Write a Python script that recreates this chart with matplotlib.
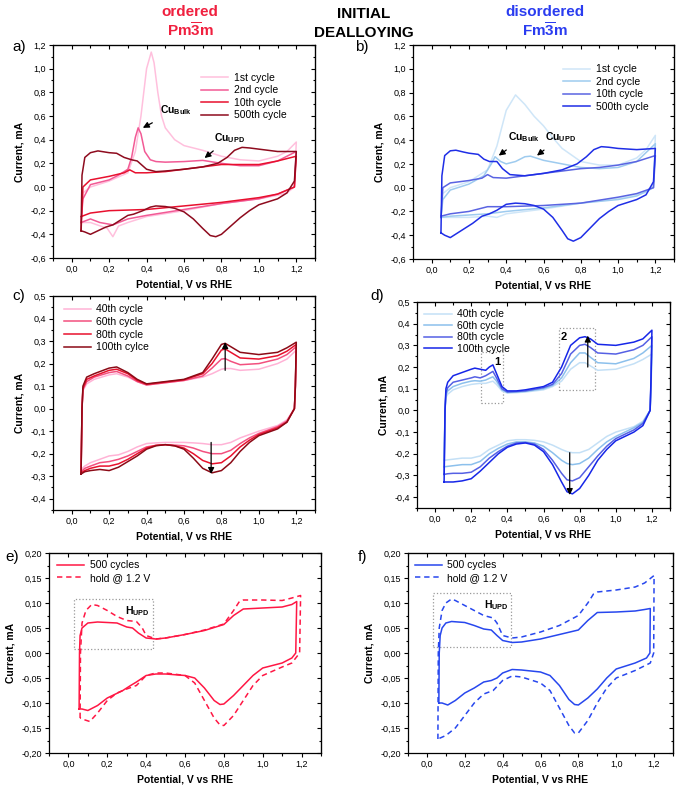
import numpy as np
import matplotlib.pyplot as plt
from matplotlib.ticker import MultipleLocator, FuncFormatter

plt.rcParams['font.family'] = ['Liberation Sans', 'DejaVu Sans']
plt.rcParams['mathtext.fontset'] = 'custom'
plt.rcParams['mathtext.rm'] = 'Liberation Sans:bold'
plt.rcParams['mathtext.bf'] = 'Liberation Sans:bold'
plt.rcParams['mathtext.it'] = 'Liberation Sans:bold'

# ---------- a) ordered, initial dealloying ----------
a_1st_x = [0.05, 0.06, 0.1, 0.2, 0.3, 0.34, 0.37, 0.40, 0.425, 0.44, 0.46, 0.48, 0.5, 0.55, 0.6, 0.7, 0.8, 0.9, 1.0, 1.1, 1.15, 1.2,
           1.19, 1.15, 1.1, 1.0, 0.8, 0.6, 0.4, 0.3, 0.25, 0.22, 0.19, 0.1, 0.05]
a_1st_y = [-0.3, -0.05, 0.0, 0.05, 0.12, 0.3, 0.6, 1.0, 1.14, 1.05, 0.8, 0.6, 0.5, 0.4, 0.35, 0.31, 0.26, 0.23, 0.22, 0.26, 0.3, 0.38,
           0.0, -0.05, -0.07, -0.1, -0.14, -0.2, -0.25, -0.3, -0.33, -0.42, -0.35, -0.3, -0.3]
a_2nd_x = [0.05, 0.06, 0.1, 0.2, 0.25, 0.3, 0.32, 0.34, 0.355, 0.37, 0.39, 0.42, 0.45, 0.5, 0.6, 0.7, 0.8, 0.9, 1.0, 1.1, 1.2,
           1.19, 1.1, 1.0, 0.8, 0.6, 0.4, 0.3, 0.22, 0.15, 0.1, 0.05]
a_2nd_y = [-0.3, -0.1, 0.02, 0.06, 0.1, 0.15, 0.25, 0.42, 0.5, 0.45, 0.3, 0.23, 0.215, 0.21, 0.215, 0.225, 0.2, 0.18, 0.18, 0.22, 0.3,
           0.0, -0.06, -0.1, -0.14, -0.19, -0.24, -0.27, -0.32, -0.3, -0.27, -0.3]
a_10th_x = [0.05, 0.06, 0.1, 0.2, 0.28, 0.31, 0.34, 0.4, 0.5, 0.6, 0.7, 0.8, 0.9, 1.0, 1.1, 1.2,
            1.19, 1.1, 1.0, 0.8, 0.6, 0.4, 0.2, 0.1, 0.05]
a_10th_y = [-0.37, 0.0, 0.06, 0.09, 0.12, 0.145, 0.12, 0.12, 0.13, 0.15, 0.17, 0.19, 0.19, 0.19, 0.22, 0.26,
            0.0, -0.06, -0.09, -0.13, -0.16, -0.19, -0.2, -0.22, -0.25]
a_500th_x = [0.05, 0.055, 0.07, 0.1, 0.14, 0.2, 0.24, 0.28, 0.32, 0.35, 0.4, 0.45, 0.5, 0.6, 0.7, 0.78, 0.83, 0.87, 0.91, 0.95, 1.0, 1.1, 1.2,
             1.19, 1.15, 1.1, 1.0, 0.95, 0.9, 0.85, 0.8, 0.77, 0.74, 0.7, 0.65, 0.6, 0.55, 0.5, 0.45, 0.42, 0.38, 0.33, 0.3, 0.27, 0.22,
             0.18, 0.14, 0.1, 0.07, 0.05]
a_500th_y = [-0.37, 0.1, 0.25, 0.29, 0.305, 0.29, 0.285, 0.25, 0.23, 0.22, 0.15, 0.13, 0.135, 0.15, 0.17, 0.2, 0.25, 0.31, 0.335, 0.33, 0.32, 0.3, 0.3,
             0.05, -0.05, -0.1, -0.15, -0.2, -0.26, -0.33, -0.4, -0.42, -0.41, -0.35, -0.27, -0.21, -0.18, -0.165, -0.16, -0.17, -0.2,
             -0.23, -0.24, -0.27, -0.32, -0.34, -0.37, -0.4, -0.38, -0.37]

# ---------- b) disordered, initial dealloying ----------
b_1st_x = [0.05, 0.06, 0.1, 0.2, 0.3, 0.35, 0.4, 0.45, 0.5, 0.55, 0.6, 0.65, 0.7, 0.8, 0.9, 1.0, 1.1, 1.15, 1.2,
           1.19, 1.15, 1.1, 1.0, 0.8, 0.6, 0.4, 0.35, 0.3, 0.2, 0.1, 0.05]
b_1st_y = [-0.25, -0.05, 0.0, 0.05, 0.15, 0.35, 0.65, 0.78, 0.7, 0.6, 0.52, 0.42, 0.33, 0.22, 0.19, 0.19, 0.25, 0.32, 0.44,
           0.02, -0.04, -0.06, -0.09, -0.13, -0.18, -0.22, -0.25, -0.24, -0.25, -0.25, -0.25]
b_2nd_x = [0.05, 0.06, 0.1, 0.2, 0.28, 0.32, 0.34, 0.37, 0.4, 0.45, 0.5, 0.53, 0.6, 0.7, 0.8, 0.9, 1.0, 1.1, 1.2,
           1.19, 1.1, 1.0, 0.8, 0.6, 0.4, 0.3, 0.2, 0.1, 0.05]
b_2nd_y = [-0.25, -0.1, -0.02, 0.03, 0.1, 0.2, 0.26, 0.22, 0.2, 0.22, 0.26, 0.265, 0.23, 0.2, 0.17, 0.16, 0.17, 0.22, 0.37,
           0.0, -0.07, -0.1, -0.13, -0.17, -0.2, -0.22, -0.23, -0.24, -0.25]
b_10th_x = [0.05, 0.06, 0.1, 0.2, 0.27, 0.3, 0.33, 0.4, 0.5, 0.6, 0.7, 0.8, 0.9, 1.0, 1.1, 1.2,
            1.19, 1.1, 1.0, 0.8, 0.6, 0.4, 0.3, 0.2, 0.1, 0.05]
b_10th_y = [-0.25, 0.0, 0.04, 0.06, 0.08, 0.11, 0.085, 0.08, 0.1, 0.12, 0.14, 0.16, 0.17, 0.19, 0.22, 0.27,
            0.0, -0.05, -0.08, -0.13, -0.15, -0.16, -0.16, -0.2, -0.22, -0.24]
b_500th_x = [0.05, 0.055, 0.07, 0.1, 0.13, 0.17, 0.2, 0.25, 0.28, 0.31, 0.35, 0.38, 0.42, 0.5, 0.6, 0.7, 0.78, 0.83, 0.87, 0.91, 0.95, 1.0, 1.1, 1.2,
             1.19, 1.15, 1.1, 1.0, 0.95, 0.9, 0.85, 0.8, 0.76, 0.73, 0.7, 0.65, 0.6, 0.55, 0.5, 0.45, 0.4, 0.35, 0.31, 0.27, 0.22,
             0.18, 0.14, 0.1, 0.07, 0.05]
b_500th_y = [-0.38, 0.1, 0.27, 0.31, 0.315, 0.3, 0.29, 0.28, 0.24, 0.22, 0.22, 0.16, 0.11, 0.1, 0.12, 0.15, 0.2, 0.26, 0.32, 0.345, 0.34, 0.33, 0.32, 0.33,
             0.05, -0.06, -0.1, -0.15, -0.2, -0.26, -0.34, -0.42, -0.45, -0.43, -0.36, -0.25, -0.18, -0.15, -0.135, -0.13, -0.14, -0.19,
             -0.22, -0.24, -0.3, -0.34, -0.38, -0.42, -0.4, -0.38]

# ---------- c) ordered, 40-100 cycles (shared potential grids) ----------
c_fwd_x = [0.05, 0.055, 0.06, 0.08, 0.12, 0.2, 0.24, 0.3, 0.35, 0.4, 0.5, 0.6, 0.7, 0.75, 0.8, 0.82, 0.85, 0.9, 1.0, 1.1, 1.15, 1.2]
c_rev_x = [1.2, 1.195, 1.19, 1.15, 1.1, 1.0, 0.95, 0.9, 0.85, 0.8, 0.75, 0.7, 0.65, 0.6, 0.55, 0.5, 0.45, 0.4, 0.35, 0.3, 0.25, 0.2, 0.15, 0.1, 0.07, 0.05]
c_40_fwd = [-0.27, 0.0, 0.08, 0.11, 0.13, 0.15, 0.155, 0.14, 0.12, 0.105, 0.115, 0.125, 0.14, 0.155, 0.175, 0.178, 0.178, 0.17, 0.175, 0.2, 0.22, 0.26]
c_60_fwd = [-0.28, 0.0, 0.085, 0.12, 0.14, 0.16, 0.165, 0.145, 0.12, 0.105, 0.115, 0.125, 0.145, 0.18, 0.22, 0.222, 0.21, 0.195, 0.2, 0.22, 0.24, 0.275]
c_80_fwd = [-0.285, 0.0, 0.09, 0.13, 0.145, 0.17, 0.175, 0.155, 0.125, 0.108, 0.118, 0.128, 0.155, 0.2, 0.26, 0.265, 0.25, 0.225, 0.22, 0.235, 0.255, 0.285]
c_100_fwd = [-0.29, 0.0, 0.1, 0.14, 0.155, 0.18, 0.185, 0.16, 0.13, 0.11, 0.12, 0.13, 0.16, 0.22, 0.285, 0.29, 0.275, 0.25, 0.24, 0.25, 0.27, 0.295]
c_40_rev = [0.26, 0.09, 0.0, -0.05, -0.075, -0.1, -0.115, -0.13, -0.15, -0.16, -0.16, -0.155, -0.152, -0.15, -0.15, -0.15, -0.152, -0.155, -0.17, -0.19, -0.205, -0.21, -0.225, -0.24, -0.255, -0.27]
c_60_rev = [0.275, 0.09, 0.0, -0.055, -0.08, -0.11, -0.13, -0.155, -0.185, -0.2, -0.2, -0.19, -0.175, -0.165, -0.162, -0.16, -0.163, -0.17, -0.19, -0.21, -0.225, -0.235, -0.24, -0.255, -0.265, -0.28]
c_80_rev = [0.285, 0.1, 0.0, -0.06, -0.085, -0.115, -0.14, -0.17, -0.21, -0.24, -0.245, -0.23, -0.2, -0.175, -0.165, -0.16, -0.163, -0.175, -0.2, -0.225, -0.245, -0.255, -0.255, -0.265, -0.275, -0.285]
c_100_rev = [0.295, 0.1, 0.0, -0.06, -0.09, -0.12, -0.15, -0.19, -0.24, -0.275, -0.285, -0.265, -0.22, -0.18, -0.165, -0.16, -0.165, -0.18, -0.21, -0.235, -0.26, -0.275, -0.27, -0.275, -0.28, -0.29]

# ---------- d) disordered, 40-100 cycles ----------
d_fwd_x = [0.05, 0.055, 0.06, 0.07, 0.1, 0.15, 0.2, 0.22, 0.25, 0.28, 0.3, 0.32, 0.34, 0.37, 0.4, 0.45, 0.5, 0.6, 0.65, 0.7, 0.75, 0.8, 0.83, 0.86, 0.9, 1.0, 1.1, 1.15, 1.2]
d_rev_x = [1.2, 1.195, 1.19, 1.15, 1.1, 1.0, 0.95, 0.9, 0.85, 0.8, 0.76, 0.73, 0.7, 0.65, 0.6, 0.55, 0.5, 0.45, 0.4, 0.35, 0.3, 0.25, 0.2, 0.15, 0.1, 0.07, 0.05]
d_40_fwd = [-0.23, 0.0, 0.06, 0.075, 0.095, 0.11, 0.12, 0.122, 0.125, 0.125, 0.13, 0.135, 0.12, 0.09, 0.08, 0.082, 0.085, 0.095, 0.11, 0.135, 0.19, 0.22, 0.22, 0.205, 0.185, 0.19, 0.215, 0.235, 0.26]
d_60_fwd = [-0.26, 0.0, 0.07, 0.09, 0.11, 0.125, 0.135, 0.137, 0.135, 0.14, 0.148, 0.155, 0.135, 0.095, 0.083, 0.085, 0.088, 0.1, 0.115, 0.15, 0.22, 0.265, 0.265, 0.245, 0.22, 0.215, 0.24, 0.265, 0.3]
d_80_fwd = [-0.295, 0.0, 0.08, 0.105, 0.13, 0.14, 0.15, 0.155, 0.15, 0.16, 0.17, 0.18, 0.15, 0.1, 0.085, 0.087, 0.09, 0.105, 0.12, 0.17, 0.26, 0.3, 0.305, 0.29, 0.265, 0.26, 0.28, 0.3, 0.34]
d_100_fwd = [-0.33, 0.0, 0.1, 0.13, 0.16, 0.175, 0.19, 0.195, 0.19, 0.185, 0.2, 0.21, 0.17, 0.11, 0.09, 0.09, 0.095, 0.11, 0.13, 0.2, 0.3, 0.335, 0.34, 0.33, 0.305, 0.3, 0.315, 0.33, 0.37]
d_40_rev = [0.26, 0.1, 0.0, -0.05, -0.075, -0.1, -0.12, -0.15, -0.18, -0.195, -0.195, -0.19, -0.18, -0.16, -0.145, -0.138, -0.135, -0.135, -0.14, -0.16, -0.18, -0.21, -0.22, -0.22, -0.225, -0.228, -0.23]
d_60_rev = [0.3, 0.12, 0.0, -0.055, -0.08, -0.12, -0.145, -0.18, -0.22, -0.245, -0.25, -0.245, -0.23, -0.195, -0.165, -0.15, -0.145, -0.145, -0.155, -0.175, -0.2, -0.235, -0.25, -0.25, -0.255, -0.258, -0.26]
d_80_rev = [0.34, 0.13, 0.0, -0.06, -0.09, -0.13, -0.165, -0.21, -0.26, -0.31, -0.325, -0.32, -0.29, -0.23, -0.18, -0.155, -0.148, -0.15, -0.165, -0.19, -0.22, -0.26, -0.285, -0.29, -0.29, -0.292, -0.295]
d_100_rev = [0.37, 0.15, 0.0, -0.07, -0.1, -0.14, -0.18, -0.23, -0.3, -0.36, -0.385, -0.375, -0.33, -0.25, -0.19, -0.16, -0.15, -0.155, -0.17, -0.2, -0.24, -0.28, -0.315, -0.325, -0.33, -0.33, -0.33]

# ---------- e) ordered, 500 cycles vs hold ----------
e_500_x = [0.055, 0.057, 0.06, 0.07, 0.1, 0.15, 0.2, 0.25, 0.3, 0.33, 0.36, 0.4, 0.45, 0.5, 0.6, 0.7, 0.8, 0.85, 0.9, 1.0, 1.1, 1.15, 1.175,
           1.17, 1.15, 1.1, 1.0, 0.95, 0.9, 0.85, 0.8, 0.78, 0.75, 0.7, 0.65, 0.6, 0.5, 0.45, 0.4, 0.35, 0.32, 0.28, 0.2, 0.15, 0.1, 0.07, 0.055]
e_500_y = [-0.112, 0.0, 0.035, 0.05, 0.06, 0.062, 0.061, 0.06, 0.052, 0.05, 0.04, 0.03, 0.028, 0.03, 0.037, 0.045, 0.057, 0.075, 0.088, 0.09, 0.092, 0.097, 0.103,
           0.0, -0.01, -0.02, -0.03, -0.045, -0.065, -0.085, -0.102, -0.103, -0.095, -0.07, -0.05, -0.045, -0.042, -0.042, -0.045, -0.058, -0.065, -0.075, -0.09, -0.105, -0.115, -0.112, -0.112]
e_hold_x = [0.06, 0.062, 0.07, 0.09, 0.12, 0.15, 0.2, 0.25, 0.3, 0.35, 0.38, 0.4, 0.45, 0.5, 0.6, 0.7, 0.8, 0.85, 0.88, 0.9, 1.0, 1.1, 1.15, 1.195,
            1.19, 1.15, 1.1, 1.0, 0.95, 0.9, 0.85, 0.8, 0.78, 0.75, 0.7, 0.65, 0.6, 0.5, 0.45, 0.4, 0.35, 0.3, 0.25, 0.2, 0.15, 0.11, 0.07, 0.06]
e_hold_y = [-0.13, 0.0, 0.06, 0.085, 0.097, 0.095, 0.085, 0.073, 0.065, 0.063, 0.05, 0.035, 0.028, 0.03, 0.037, 0.046, 0.058, 0.085, 0.103, 0.106, 0.106, 0.105, 0.11, 0.115,
            0.0, -0.02, -0.028, -0.045, -0.065, -0.095, -0.125, -0.145, -0.144, -0.13, -0.095, -0.06, -0.045, -0.04, -0.04, -0.045, -0.065, -0.072, -0.08, -0.095, -0.12, -0.137, -0.132, -0.13]

# ---------- f) disordered, 500 cycles vs hold ----------
f_500_x = [0.063, 0.065, 0.07, 0.08, 0.1, 0.13, 0.2, 0.25, 0.3, 0.34, 0.37, 0.4, 0.45, 0.5, 0.6, 0.7, 0.8, 0.85, 0.9, 1.0, 1.1, 1.15, 1.18,
           1.178, 1.16, 1.1, 1.0, 0.95, 0.9, 0.85, 0.8, 0.78, 0.75, 0.7, 0.65, 0.6, 0.5, 0.45, 0.4, 0.37, 0.34, 0.3, 0.25, 0.2, 0.15, 0.11, 0.08, 0.063]
f_500_y = [-0.1, 0.0, 0.035, 0.05, 0.06, 0.063, 0.061, 0.055, 0.048, 0.046, 0.035, 0.025, 0.021, 0.022, 0.028, 0.037, 0.046, 0.065, 0.081, 0.082, 0.084, 0.087, 0.089,
           0.0, -0.01, -0.02, -0.032, -0.05, -0.072, -0.09, -0.104, -0.103, -0.093, -0.065, -0.045, -0.038, -0.034, -0.033, -0.04, -0.05, -0.055, -0.058, -0.07, -0.08, -0.095, -0.104, -0.1, -0.1]
f_hold_x = [0.058, 0.06, 0.065, 0.08, 0.1, 0.13, 0.15, 0.2, 0.25, 0.3, 0.35, 0.37, 0.4, 0.45, 0.5, 0.6, 0.7, 0.8, 0.85, 0.88, 0.9, 1.0, 1.1, 1.15, 1.2,
            1.198, 1.18, 1.1, 1.0, 0.95, 0.9, 0.85, 0.8, 0.78, 0.75, 0.7, 0.65, 0.6, 0.5, 0.45, 0.4, 0.35, 0.3, 0.25, 0.2, 0.15, 0.1, 0.07, 0.058]
f_hold_y = [-0.172, 0.0, 0.05, 0.085, 0.1, 0.108, 0.105, 0.095, 0.085, 0.075, 0.07, 0.06, 0.035, 0.03, 0.032, 0.042, 0.055, 0.075, 0.1, 0.118, 0.122, 0.126, 0.132, 0.14, 0.155,
            0.0, -0.02, -0.035, -0.05, -0.07, -0.1, -0.135, -0.16, -0.16, -0.145, -0.11, -0.075, -0.06, -0.048, -0.046, -0.055, -0.075, -0.082, -0.1, -0.125, -0.15, -0.165, -0.17, -0.172]

W, H = 681, 787
fig = plt.figure(figsize=(W / 100, H / 100), dpi=100)


def make_ax(l, t, r, b, ylim, ymaj, fmt):
    ax = fig.add_axes([l / W, 1 - b / H, (r - l) / W, (b - t) / H])
    ax.set_xlim(-0.1, 1.3)
    ax.set_ylim(*ylim)
    ax.xaxis.set_major_locator(MultipleLocator(0.2))
    ax.xaxis.set_minor_locator(MultipleLocator(0.1))
    ax.yaxis.set_major_locator(MultipleLocator(ymaj))
    ax.yaxis.set_minor_locator(MultipleLocator(ymaj / 2))
    ax.xaxis.set_major_formatter(FuncFormatter(lambda v, p: f"{v:.1f}".replace('.', ',')))
    ax.yaxis.set_major_formatter(FuncFormatter(lambda v, p: (fmt % v).replace('.', ',')))
    ax.tick_params(which='both', direction='out', labelsize=6.5, width=0.8, pad=2)
    ax.tick_params(which='major', length=3)
    ax.tick_params(which='minor', length=1.8)
    for s in ax.spines.values():
        s.set_linewidth(0.9)
    top = ax.secondary_xaxis('top')
    top.xaxis.set_major_locator(MultipleLocator(0.2))
    top.xaxis.set_minor_locator(MultipleLocator(0.1))
    top.tick_params(which='both', direction='in', labeltop=False, width=0.8)
    top.tick_params(which='major', length=3)
    top.tick_params(which='minor', length=1.8)
    right = ax.secondary_yaxis('right')
    right.yaxis.set_major_locator(MultipleLocator(ymaj))
    right.yaxis.set_minor_locator(MultipleLocator(ymaj / 2))
    right.tick_params(which='both', direction='in', labelright=False, width=0.8)
    right.tick_params(which='major', length=3)
    right.tick_params(which='minor', length=1.8)
    ax.set_xlabel("Potential, V vs RHE", fontsize=7.5, fontweight='bold', labelpad=4)
    ax.set_ylabel("Current, mA", fontsize=7.5, fontweight='bold', labelpad=4)
    return ax


lw = 1.1
legkw = dict(frameon=False, fontsize=7.5, handlelength=2.6, handletextpad=0.5,
             labelspacing=0.25, borderaxespad=0)
arrow = dict(arrowstyle='-|>', color='black', lw=0.9, mutation_scale=9)

# a)
ax = make_ax(53, 45, 315, 258, (-0.6, 1.2), 0.2, "%.1f")
ax.plot(a_1st_x, a_1st_y, color='#ffc0dd', lw=lw, label='1st cycle')
ax.plot(a_2nd_x, a_2nd_y, color='#f25a95', lw=lw, label='2nd cycle')
ax.plot(a_10th_x, a_10th_y, color='#e8102e', lw=lw, label='10th cycle')
ax.plot(a_500th_x, a_500th_y, color='#8e0b1e', lw=lw, label='500th cycle')
ax.legend(loc='upper left', bbox_to_anchor=(0.55, 0.89), **legkw)
ax.annotate(r"Cu$_{\mathrm{Bulk}}$", xy=(0.38, 0.5), xytext=(0.47, 0.62), fontsize=7.5, fontweight='bold',
            arrowprops=dict(arrow, shrinkA=4, shrinkB=0))
ax.annotate(r"Cu$_{\mathrm{UPD}}$", xy=(0.71, 0.245), xytext=(0.76, 0.39), fontsize=7.5, fontweight='bold',
            arrowprops=dict(arrow, shrinkA=4, shrinkB=0))
fig.text(12 / W, 1 - 47 / H, "a)", fontsize=11, va='center')

# b)
ax = make_ax(413, 45, 674, 259, (-0.6, 1.2), 0.2, "%.1f")
ax.plot(b_1st_x, b_1st_y, color='#cfe6f8', lw=lw, label='1st cycle')
ax.plot(b_2nd_x, b_2nd_y, color='#9ecbef', lw=lw, label='2nd cycle')
ax.plot(b_10th_x, b_10th_y, color='#5a64e2', lw=lw, label='10th cycle')
ax.plot(b_500th_x, b_500th_y, color='#1f2ee6', lw=lw, label='500th cycle')
ax.legend(loc='upper left', bbox_to_anchor=(0.56, 0.93), **legkw)
ax.annotate(r"Cu$_{\mathrm{Bulk}}$", xy=(0.36, 0.27), xytext=(0.41, 0.4), fontsize=7.5, fontweight='bold',
            arrowprops=dict(arrow, shrinkA=4, shrinkB=0))
ax.annotate(r"Cu$_{\mathrm{UPD}}$", xy=(0.565, 0.27), xytext=(0.61, 0.4), fontsize=7.5, fontweight='bold',
            arrowprops=dict(arrow, shrinkA=4, shrinkB=0))
fig.text(355 / W, 1 - 47 / H, "b)", fontsize=11, va='center')

# c)
ax = make_ax(53, 296, 315, 510, (-0.45, 0.5), 0.1, "%.1f")
for fwd, rev, col, lab in [(c_40_fwd, c_40_rev, '#ffb3d6', '40th cycle'),
                           (c_60_fwd, c_60_rev, '#f2507f', '60th cycle'),
                           (c_80_fwd, c_80_rev, '#e8112d', '80th cycle'),
                           (c_100_fwd, c_100_rev, '#8b0a16', '100th cylce')]:
    ax.plot(c_fwd_x + c_rev_x, fwd + rev, color=col, lw=lw, label=lab)
ax.legend(loc='upper left', bbox_to_anchor=(0.025, 0.98), **legkw)
ax.annotate("", xy=(0.82, 0.295), xytext=(0.82, 0.17), arrowprops=dict(arrow, shrinkA=0, shrinkB=0))
ax.annotate("", xy=(0.745, -0.29), xytext=(0.745, -0.15), arrowprops=dict(arrow, shrinkA=0, shrinkB=0))
fig.text(12 / W, 1 - 296 / H, "c)", fontsize=11, va='center')

# d)
ax = make_ax(417, 302, 670, 508, (-0.45, 0.5), 0.1, "%.1f")
for fwd, rev, col, lab in [(d_40_fwd, d_40_rev, '#c4e0f6', '40th cycle'),
                           (d_60_fwd, d_60_rev, '#8cc0ec', '60th cycle'),
                           (d_80_fwd, d_80_rev, '#5560e4', '80th cycle'),
                           (d_100_fwd, d_100_rev, '#1626e8', '100th cycle')]:
    ax.plot(d_fwd_x + d_rev_x, fwd + rev, color=col, lw=lw, label=lab)
ax.legend(loc='upper left', bbox_to_anchor=(0.013, 0.985), **dict(legkw, labelspacing=0.15))
ax.annotate("", xy=(0.845, 0.345), xytext=(0.845, 0.2), arrowprops=dict(arrow, shrinkA=0, shrinkB=0))
ax.annotate("", xy=(0.745, -0.39), xytext=(0.745, -0.195), arrowprops=dict(arrow, shrinkA=0, shrinkB=0))
ax.add_patch(plt.Rectangle((0.252, 0.034), 0.122, 0.236, fill=False, ls=':', color='#999999', lw=0.9))
ax.add_patch(plt.Rectangle((0.686, 0.092), 0.2, 0.288, fill=False, ls=':', color='#999999', lw=0.9))
ax.text(0.343, 0.225, "1", fontsize=8, fontweight='bold', ha='center', va='center')
ax.text(0.713, 0.34, "2", fontsize=8, fontweight='bold', ha='center', va='center')
fig.text(370 / W, 1 - 296 / H, "d)", fontsize=11, va='center')

# e)
ax = make_ax(49, 553, 321, 753, (-0.2, 0.2), 0.05, "%.2f")
ax.plot(e_500_x, e_500_y, color='#ff1744', lw=lw, label='500 cycles')
ax.plot(e_hold_x, e_hold_y, color='#ff1744', lw=lw, ls=(0, (3.5, 2.5)), label='hold @ 1.2 V')
ax.legend(loc='upper left', bbox_to_anchor=(0.015, 0.985), **legkw)
ax.add_patch(plt.Rectangle((0.03, 0.008), 0.407, 0.1, fill=False, ls=':', color='#999999', lw=0.9))
ax.text(0.29, 0.083, r"H$_{\mathrm{UPD}}$", fontsize=7.5, fontweight='bold', va='center')
fig.text(5 / W, 1 - 557 / H, "e)", fontsize=11, va='center')

# f)
ax = make_ax(408, 553, 673, 753, (-0.2, 0.2), 0.05, "%.2f")
ax.plot(f_500_x, f_500_y, color='#2747ee', lw=lw, label='500 cycles')
ax.plot(f_hold_x, f_hold_y, color='#2747ee', lw=lw, ls=(0, (3.5, 2.5)), label='hold @ 1.2 V')
ax.legend(loc='upper left', bbox_to_anchor=(0.01, 0.985), **legkw)
ax.add_patch(plt.Rectangle((0.034, 0.013), 0.411, 0.107, fill=False, ls=':', color='#999999', lw=0.9))
ax.text(0.3, 0.096, r"H$_{\mathrm{UPD}}$", fontsize=7.5, fontweight='bold', va='center')
fig.text(358 / W, 1 - 557 / H, "f)", fontsize=11, va='center')

# headers
red, blue = '#f0203f', '#2a3cf0'
fig.text(190 / W, 1 - 12 / H, "ordered", color=red, fontsize=11, fontweight='bold', ha='center', va='center')
fig.text(190 / W, 1 - 31 / H, r"Pm$\overline{\mathrm{3}}$m", color=red, fontsize=11, fontweight='bold', ha='center', va='center')
fig.text(364 / W, 1 - 14 / H, "INITIAL", fontsize=11, fontweight='bold', ha='center', va='center')
fig.text(364 / W, 1 - 33 / H, "DEALLOYING", fontsize=11, fontweight='bold', ha='center', va='center')
fig.text(545 / W, 1 - 12 / H, "disordered", color=blue, fontsize=11, fontweight='bold', ha='center', va='center')
fig.text(545 / W, 1 - 31 / H, r"Fm$\overline{\mathrm{3}}$m", color=blue, fontsize=11, fontweight='bold', ha='center', va='center')

fig.savefig("out.png", dpi=100)
